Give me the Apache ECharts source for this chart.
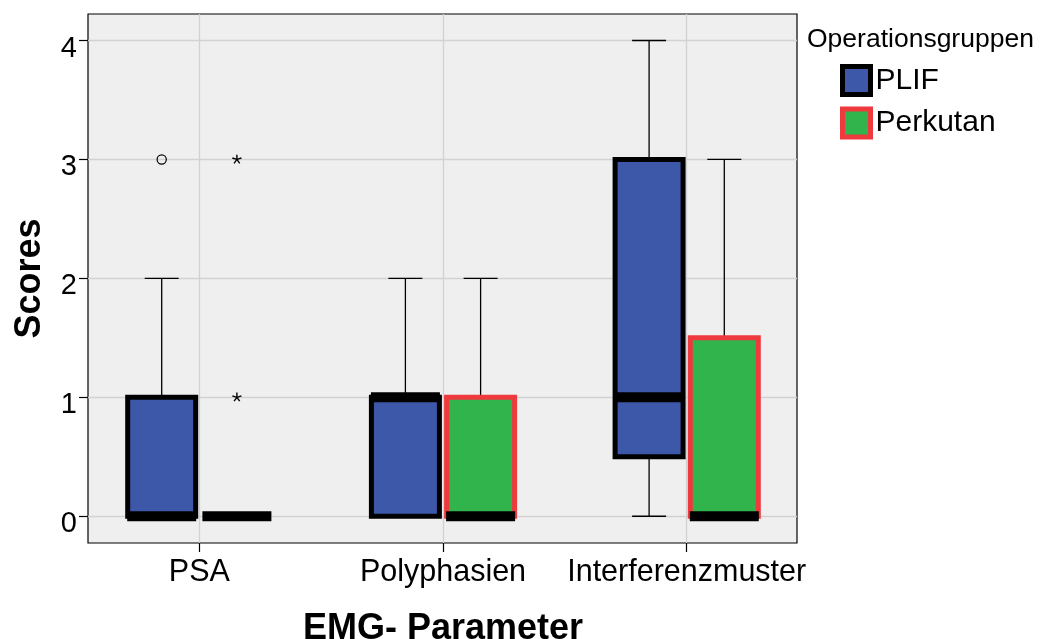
<!DOCTYPE html>
<html>
<head>
<meta charset="utf-8">
<script src="https://cdn.jsdelivr.net/npm/echarts@6/dist/echarts.min.js"></script>
<style>
  html, body { margin: 0; padding: 0; background: #ffffff; }
  #chart { width: 1042px; height: 639px; }
</style>
</head>
<body>
<div id="chart"></div>
<script>
// ---- data ----
const categories = ['PSA', 'Polyphasien', 'Interferenzmuster'];
const groupNames = ['PLIF', 'Perkutan'];
// [min whisker, Q1, median, Q3, max whisker] per category
const plifBoxes = [
  [0, 0, 0, 1, 2],
  [0, 0, 1, 1, 2],
  [0, 0.5, 1, 3, 4]
];
const perkutanBoxes = [
  [0, 0, 0, 0, 0],
  [0, 0, 0, 1, 2],
  [0, 0, 0, 1.5, 3]
];
// outliers: [categoryIndex, value]
const plifOutliers = [[0, 3]];
const plifExtremes = [];
const perkutanOutliers = [];
const perkutanExtremes = [[0, 1], [0, 3]];
const yTicks = [0, 1, 2, 3, 4];
const yMin = -0.225, yMax = 4.223;

// ---- style ----
const FONT = "'Liberation Sans', Arial, Helvetica, sans-serif";
const BOX_W = 68;      // px
const BOX_OFF = 37.6;  // px from category centre
const styles = {
  PLIF: { fill: '#3e58a9', stroke: '#000000', side: -1 },
  Perkutan: { fill: '#31b44b', stroke: '#ee3a3e', side: 1 }
};

function boxRenderer(name) {
  const st = styles[name];
  return function (params, api) {
    const cat = api.value(0);
    const xc = api.coord([cat, 0])[0] + st.side * BOX_OFF;
    const y = v => api.coord([cat, v])[1];
    const vMin = api.value(1), q1 = api.value(2), med = api.value(3), q3 = api.value(4), vMax = api.value(5);
    const children = [];
    const lineStyle = { stroke: '#000', lineWidth: 1.3 };
    if (vMax > q3) {
      children.push({ type: 'line', shape: { x1: xc, y1: y(q3), x2: xc, y2: y(vMax) }, style: lineStyle });
      children.push({ type: 'line', shape: { x1: xc - BOX_W / 4, y1: y(vMax), x2: xc + BOX_W / 4, y2: y(vMax) }, style: lineStyle });
    }
    if (vMin < q1) {
      children.push({ type: 'line', shape: { x1: xc, y1: y(q1), x2: xc, y2: y(vMin) }, style: lineStyle });
      children.push({ type: 'line', shape: { x1: xc - BOX_W / 4, y1: y(vMin), x2: xc + BOX_W / 4, y2: y(vMin) }, style: lineStyle });
    }
    children.push({
      type: 'rect',
      shape: { x: xc - BOX_W / 2, y: y(q3), width: BOX_W, height: y(q1) - y(q3) },
      style: { fill: st.fill, stroke: st.stroke, lineWidth: 5 }
    });
    children.push({
      type: 'rect',
      shape: { x: xc - BOX_W / 2 - 0.5, y: y(med) - 5, width: BOX_W + 1, height: 10 },
      style: { fill: '#000' }
    });
    return { type: 'group', children: children };
  };
}

function outlierRenderer(name, kind) {
  const st = styles[name];
  return function (params, api) {
    const cat = api.value(0);
    const p = api.coord([cat, api.value(1)]);
    const xc = p[0] + st.side * BOX_OFF, yc = p[1];
    if (kind === 'circle') {
      return { type: 'circle', shape: { cx: xc, cy: yc, r: 4.6 }, style: { fill: 'none', stroke: '#000', lineWidth: 1.2 } };
    }
    const r = 4.8, kids = [];
    for (let k = 0; k < 5; k++) {
      const a = (-90 + 72 * k) * Math.PI / 180;
      kids.push({ type: 'line', shape: { x1: xc, y1: yc, x2: xc + r * Math.cos(a), y2: yc + r * Math.sin(a) }, style: { stroke: '#000', lineWidth: 1.4 } });
    }
    return { type: 'group', children: kids };
  };
}

function toBoxData(arr) { return arr.map((b, i) => [i].concat(b)); }

const chart = echarts.init(document.getElementById('chart'), null, { renderer: 'canvas' });
const option = {
  animation: false,
  backgroundColor: '#ffffff',
  textStyle: { fontFamily: FONT, color: '#000' },
  title: {
    text: 'Operationsgruppen',
    left: 807, top: 26, padding: 0,
    textStyle: { fontFamily: FONT, fontSize: 26.5, fontWeight: 'normal', color: '#000' }
  },
  legend: {
    orient: 'vertical',
    left: 840, top: 64, padding: 0,
    itemWidth: 28, itemHeight: 28, itemGap: 9.5,
    icon: 'rect',
    selectedMode: false,
    textStyle: { fontFamily: FONT, fontSize: 30, color: '#000', lineHeight: 30 },
    data: [
      { name: 'PLIF', itemStyle: { color: styles.PLIF.fill, borderColor: styles.PLIF.stroke, borderWidth: 5 } },
      { name: 'Perkutan', itemStyle: { color: styles.Perkutan.fill, borderColor: styles.Perkutan.stroke, borderWidth: 5 } }
    ]
  },
  grid: [
    { left: 88, top: 14, width: 709, height: 529, outerBoundsMode: 'none', containLabel: false,
      show: true, backgroundColor: '#efefef', borderColor: '#000', borderWidth: 1.2 },
    { left: 199.3, top: 14, width: 487.4, height: 529, outerBoundsMode: 'none', containLabel: false, show: false }
  ],
  xAxis: [
    { gridIndex: 0, type: 'value', min: 0, max: 1, show: false },
    {
      gridIndex: 1, type: 'category', data: categories, boundaryGap: false,
      axisLine: { show: false, onZero: false },
      axisTick: { show: true, length: 9, lineStyle: { color: '#000', width: 1.2 } },
      axisLabel: { fontFamily: FONT, fontSize: 30.5, color: '#000', margin: 14.5, interval: 0 },
      splitLine: { show: true, lineStyle: { color: '#d2d2d2', width: 1.3 } },
      name: 'EMG- Parameter', nameLocation: 'middle', nameGap: 68,
      nameTextStyle: { fontFamily: FONT, fontSize: 36, fontWeight: 'bold', color: '#000' }
    }
  ],
  yAxis: [
    {
      gridIndex: 0, type: 'value', min: yMin, max: yMax,
      axisLine: { show: false, onZero: false },
      axisTick: { show: true, length: 9, customValues: yTicks, lineStyle: { color: '#000', width: 1.2 } },
      axisLabel: { fontFamily: FONT, fontSize: 29, color: '#000', margin: 11, customValues: yTicks,
                   verticalAlign: 'top', lineHeight: 16 },
      splitLine: { show: true, lineStyle: { color: '#d2d2d2', width: 1.3 } },
      name: 'Scores', nameLocation: 'middle', nameGap: 40,
      nameTextStyle: { fontFamily: FONT, fontSize: 36, fontWeight: 'bold', color: '#000' }
    },
    { gridIndex: 1, type: 'value', min: yMin, max: yMax, show: false, splitLine: { show: false } }
  ],
  series: [
    { name: 'PLIF', type: 'custom', xAxisIndex: 1, yAxisIndex: 1, renderItem: boxRenderer('PLIF'),
      encode: { x: 0, y: [1, 2, 3, 4, 5] }, data: toBoxData(plifBoxes), itemStyle: { color: styles.PLIF.fill } },
    { name: 'Perkutan', type: 'custom', xAxisIndex: 1, yAxisIndex: 1, renderItem: boxRenderer('Perkutan'),
      encode: { x: 0, y: [1, 2, 3, 4, 5] }, data: toBoxData(perkutanBoxes), itemStyle: { color: styles.Perkutan.fill } },
    { name: 'PLIF', type: 'custom', xAxisIndex: 1, yAxisIndex: 1, renderItem: outlierRenderer('PLIF', 'circle'),
      encode: { x: 0, y: 1 }, data: plifOutliers },
    { name: 'PLIF', type: 'custom', xAxisIndex: 1, yAxisIndex: 1, renderItem: outlierRenderer('PLIF', 'star'),
      encode: { x: 0, y: 1 }, data: plifExtremes },
    { name: 'Perkutan', type: 'custom', xAxisIndex: 1, yAxisIndex: 1, renderItem: outlierRenderer('Perkutan', 'circle'),
      encode: { x: 0, y: 1 }, data: perkutanOutliers },
    { name: 'Perkutan', type: 'custom', xAxisIndex: 1, yAxisIndex: 1, renderItem: outlierRenderer('Perkutan', 'star'),
      encode: { x: 0, y: 1 }, data: perkutanExtremes }
  ]
};
chart.setOption(option);
</script>
</body>
</html>
